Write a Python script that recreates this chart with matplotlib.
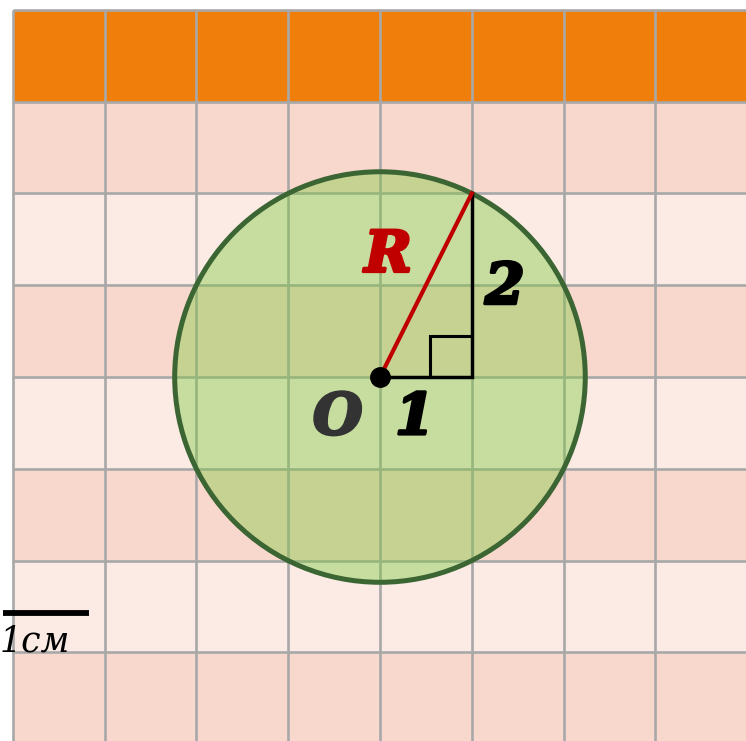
import numpy as np
import matplotlib.pyplot as plt
import matplotlib.patheffects as pe
from matplotlib.patches import Circle

# grid rows, top to bottom (cell units, circle centre at 0,0)
row_tops = [4, 3, 2, 1, 0, -1, -2, -3]
row_colors = ['#EF7F0A', '#F8D8CC', '#FBEBE4', '#F8D8CC',
              '#FBEBE4', '#F8D8CC', '#FBEBE4', '#F8D8CC']
grid_x = [-4, -3, -2, -1, 0, 1, 2, 3, 4]
grid_y = [-4, -3, -2, -1, 0, 1, 2, 3, 4]

# right triangle: legs 1 and 2, hypotenuse = radius
leg_x, leg_y = 1, 2
radius = np.hypot(leg_x, leg_y)
corner = 0.45

fig = plt.figure(figsize=(7.46, 7.41), dpi=100)
ax = fig.add_axes([0, 0, 1, 1])
ax.set_xlim(-4.139, 3.987)
ax.set_ylim(-3.965, 4.107)
ax.axis('off')

# coloured rows + grid
ax.barh([t - 1 for t in row_tops], 10, left=-4, height=1, align='edge',
        color=row_colors, zorder=1)
for gx in grid_x:
    ax.plot([gx, gx], [-5, 4], color='#A8A8A8', lw=1.9, zorder=2,
            solid_capstyle='butt')
for gy in grid_y:
    ax.plot([-4, 5], [gy, gy], color='#A8A8A8', lw=1.9, zorder=2,
            solid_capstyle='butt')

# circle
ax.add_patch(Circle((0, 0), radius, facecolor='#7BC93A', alpha=0.4,
                    edgecolor='none', zorder=3))
ax.add_patch(Circle((0, 0), radius, facecolor='none', edgecolor='#3B6532',
                    lw=3.6, zorder=4))

# triangle
ax.plot([0, leg_x, leg_x], [0, 0, leg_y], color='black', lw=2.5, zorder=5,
        solid_joinstyle='miter')
ax.plot([leg_x - corner, leg_x - corner, leg_x], [0, corner, corner],
        color='black', lw=2.2, zorder=5, solid_joinstyle='miter')
ax.plot([0, leg_x], [0, leg_y], color='#C00000', lw=3.0, zorder=6)
ax.plot([0], [0], 'o', color='black', ms=14, zorder=7)

lab = dict(family='DejaVu Serif', weight='bold', style='italic',
           fontsize=41, ha='center', va='center', zorder=8)
for x, y, s, c in [(0.09, 1.32, 'R', '#C00000'), (1.36, 0.97, '2', 'black'),
                   (0.38, -0.45, '1', 'black'), (-0.46, -0.45, 'O', '#333333')]:
    ax.text(x, y, s, color=c, **lab,
            path_effects=[pe.withStroke(linewidth=2.2, foreground=c)])

# scale bar
ax.plot([-4.107, -3.17], [-2.571, -2.571], color='black', lw=4.2,
        solid_capstyle='butt', zorder=8)
ax.text(-3.76, -2.88, '1см', family='DejaVu Serif', style='italic',
        fontsize=25, ha='center', va='center', color='black', zorder=8)

fig.savefig('out.png', dpi=100)
